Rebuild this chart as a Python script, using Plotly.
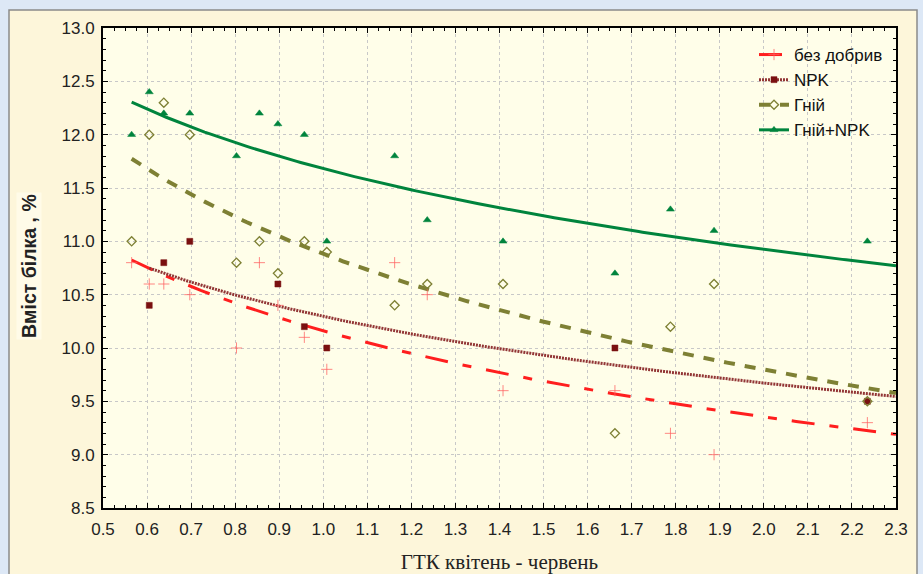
import numpy as np
import plotly.graph_objects as go

# ---- data ----
gtk = [0.565, 0.605, 0.638, 0.697, 0.803, 0.855, 0.897, 0.957, 1.008,
       1.162, 1.236, 1.408, 1.662, 1.788, 1.887, 2.235]
bez_dobryv = [10.8, 10.6, 10.6, 10.5, 10.0, 10.8, 10.4, 10.1, 9.8,
              10.8, 10.5, 9.6, 9.6, 9.2, 9.0, 9.3]
hnii = [11.0, 12.0, 12.3, 12.0, 10.8, 11.0, 10.7, 11.0, 10.9,
        10.4, 10.6, 10.6, 9.2, 10.2, 10.6, 9.5]
hnii_npk = [12.0, 12.4, 12.2, 12.2, 11.8, 12.2, 12.1, 12.0, 11.0,
            11.8, 11.2, 11.0, 10.7, 11.3, 11.1, 11.0]
npk_x = [0.605, 0.638, 0.697, 0.897, 0.957, 1.008, 1.662, 2.235]
npk = [10.4, 10.8, 11.0, 10.6, 10.2, 10.0, 10.0, 9.5]

names = ["без добрив", "NPK", "Гній", "Гній+NPK"]
x_ticks = [round(0.5 + 0.1 * i, 1) for i in range(19)]
x_tick_text = [f"{v:.1f}" for v in x_ticks]
y_ticks = [8.5, 9.0, 9.5, 10.0, 10.5, 11.0, 11.5, 12.0, 12.5, 13.0]
y_tick_text = [f"{v:.1f}" for v in y_ticks]

X_MAX = 2.3

series = [
    dict(name=names[0], x=gtk, y=bez_dobryv,
         line=dict(color="#ff1e1e", width=3, dash="23px,15px,9px,15px"),
         marker=dict(symbol="cross-thin-open", size=8, color="rgba(255,95,95,0.75)",
                     line=dict(color="rgba(255,95,95,0.75)", width=1))),
    dict(name=names[1], x=npk_x, y=npk,
         line=dict(color="#923535", width=3, dash="2px,1px"),
         marker=dict(symbol="square", size=6, color="#7a1010",
                     line=dict(color="#7a1010", width=0.5))),
    dict(name=names[2], x=gtk, y=hnii,
         line=dict(color="#7e8034", width=4, dash="11px,10px"),
         marker=dict(symbol="diamond-open", size=7, color="#7e8034",
                     line=dict(color="#7e8034", width=1.3))),
    dict(name=names[3], x=gtk, y=hnii_npk,
         line=dict(color="#00843d", width=3),
         marker=dict(symbol="triangle-up", size=7, color="#00843d",
                     line=dict(color="#00843d", width=0.5))),
]

fig = go.Figure()

# fitted logarithmic regression lines  y = a + b*ln(x)
for s in series:
    xs = np.array(s["x"], dtype=float)
    ys = np.array(s["y"], dtype=float)
    b, a = np.polyfit(np.log(xs), ys, 1)
    xf = np.linspace(xs.min(), X_MAX, 200)
    fig.add_trace(go.Scatter(x=xf, y=a + b * np.log(xf), mode="lines",
                             line=s["line"], showlegend=False,
                             hoverinfo="skip"))

# data points
for s in series:
    fig.add_trace(go.Scatter(x=s["x"], y=s["y"], mode="markers",
                             marker=s["marker"], showlegend=False,
                             name=s["name"]))

# legend entries (line + marker)
for s in series:
    fig.add_trace(go.Scatter(x=[None], y=[None], mode="lines+markers",
                             name=s["name"], line=s["line"],
                             marker=s["marker"]))

L, R, T, B = 103, 27, 28, 66
W, H = 923, 574
pw, ph = W - L - R, H - T - B

def px_x(p):
    return (p - L) / pw

def px_y(p):
    return (H - B - p) / ph

fig.update_layout(
    width=W, height=H, autosize=False,
    margin=dict(l=L, r=R, t=T, b=B, pad=0, autoexpand=False),
    paper_bgcolor="#dde8f6",
    plot_bgcolor="#fffee9",
    font=dict(family="Arial, Liberation Sans, sans-serif", size=17, color="#222222"),
    shapes=[
        dict(type="rect", xref="paper", yref="paper", layer="below",
             x0=px_x(9), x1=px_x(917), y0=px_y(590), y1=px_y(10),
             fillcolor="#fdf6da", line=dict(color="#8a8a8a", width=1.5)),
        dict(type="rect", xref="paper", yref="paper", layer="below",
             x0=0, x1=1, y0=0, y1=1, fillcolor="#fffee9",
             line=dict(width=0)),
    ],
    legend=dict(x=px_x(754), y=px_y(37), xanchor="left", yanchor="top",
                bgcolor="rgba(0,0,0,0)", borderwidth=0,
                font=dict(family="Arial, Liberation Sans, sans-serif", size=17, color="#111111"),
                traceorder="normal"),
    annotations=[
        dict(text="<b>Вміст білка , %</b>", xref="paper", yref="paper",
             x=px_x(29), y=px_y(266), xanchor="center", yanchor="middle",
             showarrow=False, textangle=-90,
             font=dict(family="Arial, Liberation Sans, sans-serif", size=19.5, color="#222222"),
             bgcolor="#fffbe8"),
    ],
)

fig.update_xaxes(
    range=[0.5, X_MAX], tickmode="array", tickvals=x_ticks, ticktext=x_tick_text,
    showline=True, linecolor="black", linewidth=2, mirror="allticks",
    ticks="inside", ticklen=5, tickcolor="black", tickwidth=1,
    showgrid=True, gridcolor="#c8c8c8", gridwidth=1, griddash="dot",
    zeroline=False, ticklabelstandoff=5, automargin=False,
    minor=dict(dtick=0.025, tick0=0.5, ticks="inside", ticklen=3,
               tickcolor="black", showgrid=False),
    title=dict(text="ГТК квітень - червень",
               font=dict(family="Liberation Serif, Times New Roman, serif", size=21, color="#222222"),
               standoff=16),
)
fig.update_yaxes(
    range=[8.5, 13.0], tickmode="array", tickvals=y_ticks, ticktext=y_tick_text,
    showline=True, linecolor="black", linewidth=2, mirror="allticks",
    ticks="inside", ticklen=5, tickcolor="black", tickwidth=1,
    showgrid=True, gridcolor="#c8c8c8", gridwidth=1, griddash="dot",
    zeroline=False, ticklabelstandoff=3, automargin=False,
    minor=dict(dtick=0.1, tick0=8.5, ticks="inside", ticklen=3,
               tickcolor="black", showgrid=False),
)

fig.write_html(
    "out.html",
    config={"displayModeBar": False},
    post_script="document.body.style.margin='0';document.body.style.background='#dde8f6';",
)
